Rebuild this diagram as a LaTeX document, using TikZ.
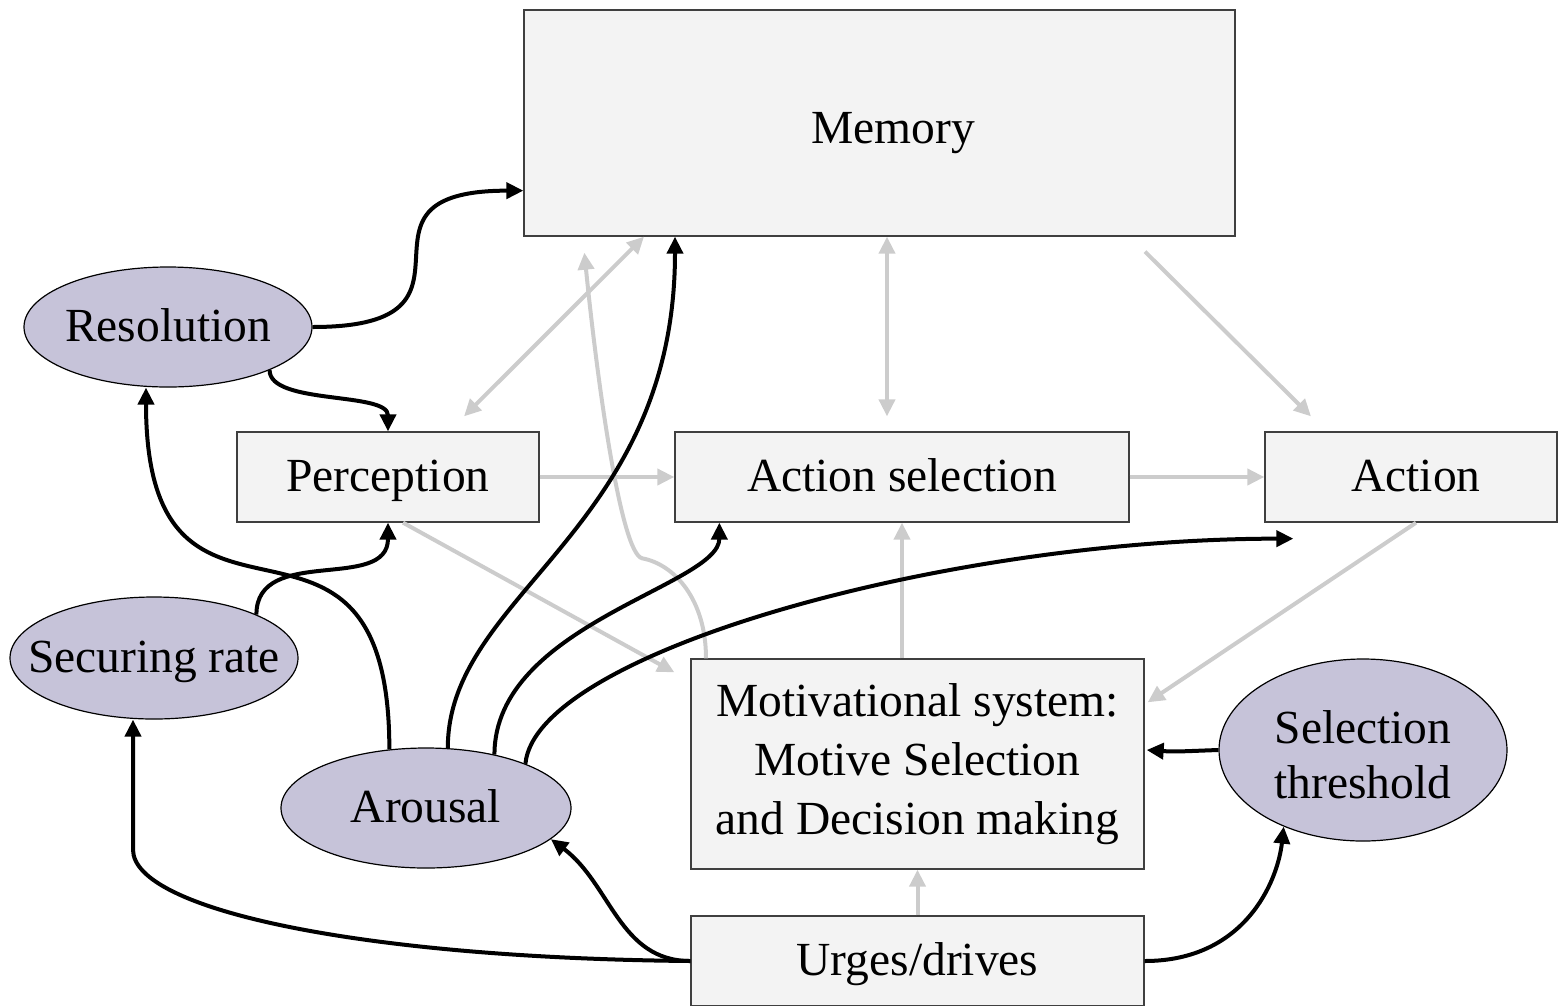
\documentclass[tikz,border=0pt]{standalone}
\usepackage{fontspec}
\setmainfont{Liberation Serif}
\usetikzlibrary{arrows.meta,shapes.geometric,calc}
\definecolor{boxfill}{HTML}{F3F3F3}
\definecolor{ellfill}{HTML}{C6C3D9}
\definecolor{lightarr}{HTML}{CCCCCC}
\definecolor{boxline}{HTML}{3F3F3F}
\newcommand\mystrut{\rule[-14pt]{0pt}{56pt}}
\newcommand\memstrut{\rule[-14pt]{0pt}{68pt}}
\begin{document}
\begin{tikzpicture}[x=1pt,y=-1pt,
  every node/.style={font=\fontsize{47.5}{59}\selectfont, inner sep=0pt},
  blk/.style={draw=boxline, line width=1.3pt, fill=boxfill, rectangle},
  ell/.style={draw=black, line width=1.2pt, fill=ellfill, ellipse},
  garr/.style={draw=lightarr, line width=4pt, -{Triangle[length=17pt,width=16pt]}},
  gdbl/.style={draw=lightarr, line width=4pt, {Triangle[length=17pt,width=16pt]}-{Triangle[length=17pt,width=16pt]}},
  barr/.style={draw=black, line width=4pt, -{Triangle[length=17pt,width=16pt]}}]
\useasboundingbox (0,0) rectangle (1558,1005);

% boxes
\node[blk, minimum width=711pt, minimum height=226pt] (mem) at (879.5,123) {\hspace*{27pt}Memory\memstrut};
\node[blk, minimum width=302pt, minimum height=90pt] (per) at (388,477) {Perception\mystrut};
\node[blk, minimum width=454pt, minimum height=90pt] (asel) at (902,477) {Action selection\mystrut};
\node[blk, minimum width=292pt, minimum height=90pt] (act) at (1411,477) {\hspace*{10pt}Action\mystrut};
\node[blk, minimum width=453pt, minimum height=210pt, align=center] (mot) at (917.5,764) {Motivational system:\\Motive Selection\\and Decision making};
\node[blk, minimum width=453pt, minimum height=90pt] (urg) at (917.5,961) {Urges/drives\mystrut};

% ellipses
\node[ell, minimum width=288pt, minimum height=120pt] (res) at (168,327) {};
\node (restxt) at (res) {Resolution\mystrut};
\node[ell, minimum width=288pt, minimum height=122pt] (sec) at (154,658) {};
\node (sectxt) at (sec) {Securing rate\mystrut};
\node[ell, minimum width=290pt, minimum height=120pt] (aro) at (426,808) {};
\node (arotxt) at (aro) {Arousal\mystrut};
\node[ell, minimum width=288pt, minimum height=182pt] (st) at (1363,750) {};
\node[align=center, font=\fontsize{47.5}{55}\selectfont] (sttxt) at ([shift={(0,5)}]st.center) {Selection\\threshold};

% gray connectors
\draw[gdbl] ([shift={(76,-15)}]per.north) -- ([xshift=-235.5pt]mem.south);
\draw[gdbl] ([shift={(7.5,0)}]mem.south) -- ([shift={(-15,-15)}]asel.north);
\draw[garr] ([shift={(265.5,15)}]mem.south) -- ([shift={(-100,-15)}]act.north);
\draw[garr] (per.east) -- (asel.west);
\draw[garr] (asel.east) -- (act.west);
\draw[garr] ([shift={(15,0)}]per.south) -- ([shift={(-16,14)}]mot.north west);
\draw[garr] ([shift={(5,0)}]act.south) -- ([shift={(3,44)}]mot.north east);
\draw[garr] ([xshift=-15.5pt]mot.north) -- (asel.south);
\draw[garr] (urg.north) -- (mot.south);
\draw[garr] ([xshift=-211.5pt]mot.north) .. controls +(0,-59) and +(32,6) .. ($(mot.north west)+(-48,-100)$) .. controls +(-22,-4) and +(12,120) .. ([shift={(61,16)}]mem.south west);

% black connectors
\draw[barr] (res.east) .. controls +(195,0) and +(-195,0) .. ([shift={(0,-46)}]mem.south west);
\draw[barr] (res.-23) .. controls +(0,35) and +(0,-40) .. (per.north);
\draw[barr] (aro.122) .. controls +(0,-300) and +(0,300) .. ([xshift=-22pt]res.south);
\draw[barr] (sec.23) .. controls +(0,-70) and +(0,70) .. (per.south);
\draw[barr] (aro.70) .. controls +(0,-155) and +(0,295) .. ([xshift=-204.5pt]mem.south);
\draw[barr] (aro.38) .. controls +(0,-130) and +(0,63) .. ([xshift=45pt]asel.south west);
\draw[barr] (aro.24) .. controls +(10,-110) and +(-350,0) .. ([shift={(29,16)}]act.south west);
\draw[barr] (urg.west) .. controls +(-71,0) and +(60,45) .. (aro.-14);
\draw[barr] (urg.west) .. controls +(-330,-3) and +(0,60) .. ([shift={(-21,130)}]sec.south) -- ([xshift=-21pt]sec.south);
\draw[barr] (urg.east) .. controls +(100,0) and +(-6,55) .. (st.224);
\draw[barr] (st.west) .. controls +(-30,1) and +(30,2) .. ([shift={(2,-14)}]mot.east);
\end{tikzpicture}
\end{document}
